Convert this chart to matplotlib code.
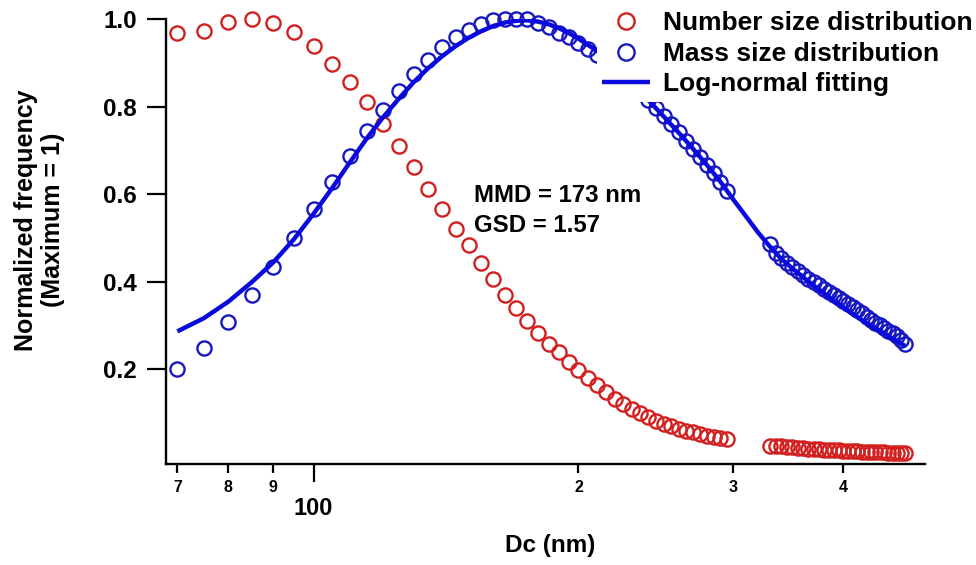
import matplotlib
matplotlib.use("Agg")
import matplotlib.pyplot as plt
from matplotlib.ticker import FixedLocator, FixedFormatter

plt.rcParams['font.family'] = ['Liberation Sans', 'DejaVu Sans']
plt.rcParams['font.weight'] = 'bold'

# mobility diameters (nm), two scan ranges
dc_lo = [70, 75, 80, 85, 90, 95, 100, 105, 110, 115, 120, 125, 130, 135, 140,
         145, 150, 155, 160, 165, 170, 175, 180, 185, 190, 195, 200, 205, 210,
         215, 220, 225, 230, 235, 240, 245, 250, 255, 260, 265, 270, 275, 280,
         285, 290, 295]
dc_hi = [330, 335, 340, 345, 350, 355, 360, 365, 370, 375, 380, 385, 390, 395,
         400, 405, 410, 415, 420, 425, 430, 435, 440, 445, 450, 455, 460, 465, 470]

# normalized number size distribution
num_lo = [0.967, 0.973, 0.994, 1.000, 0.990, 0.971, 0.938, 0.898, 0.856, 0.810,
          0.759, 0.709, 0.661, 0.612, 0.565, 0.521, 0.483, 0.443, 0.405, 0.369,
          0.339, 0.309, 0.283, 0.258, 0.238, 0.217, 0.198, 0.180, 0.163, 0.147,
          0.132, 0.120, 0.109, 0.099, 0.090, 0.082, 0.075, 0.069, 0.064, 0.059,
          0.055, 0.051, 0.048, 0.045, 0.042, 0.040]
num_hi = [0.025, 0.024, 0.023, 0.022, 0.021, 0.020, 0.019, 0.018, 0.017, 0.0165,
          0.016, 0.015, 0.0145, 0.014, 0.013, 0.0125, 0.012, 0.0115, 0.011, 0.0105,
          0.010, 0.0098, 0.0095, 0.0092, 0.009, 0.0088, 0.0085, 0.0083, 0.008]

# normalized mass size distribution
mass_lo = [0.200, 0.248, 0.307, 0.369, 0.433, 0.500, 0.565, 0.627, 0.688, 0.743,
           0.792, 0.836, 0.875, 0.906, 0.936, 0.958, 0.974, 0.989, 0.997, 1.000,
           1.000, 0.999, 0.991, 0.982, 0.969, 0.958, 0.945, 0.932, 0.918, 0.903,
           0.887, 0.870, 0.851, 0.832, 0.815, 0.797, 0.778, 0.760, 0.741, 0.722,
           0.703, 0.685, 0.666, 0.647, 0.627, 0.606]
mass_hi = [0.485, 0.466, 0.453, 0.443, 0.434, 0.424, 0.414, 0.405, 0.399, 0.392,
           0.384, 0.377, 0.370, 0.363, 0.356, 0.348, 0.341, 0.334, 0.327, 0.320,
           0.313, 0.306, 0.301, 0.294, 0.287, 0.282, 0.276, 0.266, 0.257]

# log-normal fit of the mass distribution
fit_dc = [70, 75, 80, 85, 90, 95, 100, 105, 110, 115, 120, 125, 130, 135, 140,
          145, 150, 155, 160, 165, 170, 175, 180, 185, 190, 195, 200, 210, 220,
          230, 240, 250, 260, 270, 280, 290, 300, 310, 320, 330, 340, 350, 360,
          370, 380, 390, 400, 410, 420, 430, 440, 450, 460, 470]
fit_val = [0.286, 0.316, 0.354, 0.398, 0.444, 0.497, 0.555, 0.614, 0.673, 0.728,
           0.776, 0.818, 0.856, 0.888, 0.915, 0.938, 0.957, 0.972, 0.984, 0.992,
           0.996, 0.997, 0.994, 0.988, 0.979, 0.968, 0.955, 0.927, 0.892, 0.853,
           0.815, 0.777, 0.740, 0.703, 0.666, 0.628, 0.587, 0.549, 0.512, 0.480,
           0.452, 0.430, 0.410, 0.391, 0.374, 0.357, 0.341, 0.326, 0.312, 0.299,
           0.287, 0.275, 0.264, 0.253]

mmd = 173
gsd = 1.57

red = '#D22020'
blue = '#1818C0'
fitblue = '#0A0ADC'

fig = plt.figure(figsize=(9.76, 5.65), dpi=100)
ax = fig.add_axes([165.7 / 976, 1 - 464 / 565, 759.3 / 976, 445 / 565])

dc = dc_lo + dc_hi
ax.plot(dc, num_lo + num_hi, 'o', mfc='none', mec=red, ms=10.2, mew=1.7,
        clip_on=False, label='Number size distribution')
ax.plot(dc, mass_lo + mass_hi, 'o', mfc='none', mec=blue, ms=10.2, mew=1.7,
        clip_on=False, label='Mass size distribution')
ax.plot(fit_dc, fit_val, '-', color=fitblue, lw=3.2, solid_capstyle='butt',
        label='Log-normal fitting')

ax.set_xscale('log')
ax.set_xlim(67.9, 495.3)
ax.set_ylim(-0.0171, 1.0)

for s in ['top', 'right']:
    ax.spines[s].set_visible(False)
for s in ['left', 'bottom']:
    ax.spines[s].set_linewidth(1.7)

# Igor-style log axis: "100" as major, single digits on minor ticks
ax.xaxis.set_major_locator(FixedLocator([100]))
ax.xaxis.set_major_formatter(FixedFormatter(['100']))
ax.xaxis.set_minor_locator(FixedLocator([70, 80, 90, 200, 300, 400]))
ax.xaxis.set_minor_formatter(FixedFormatter(['7', '8', '9', '2', '3', '4']))
ax.tick_params(axis='x', which='major', length=13, width=1.6, pad=11,
               labelsize=17)
ax.tick_params(axis='x', which='minor', length=6.7, width=1.6, pad=4.8,
               labelsize=11.5)

ax.set_yticks([0.2, 0.4, 0.6, 0.8, 1.0])
ax.set_yticklabels(['0.2', '0.4', '0.6', '0.8', '1.0'])
ax.tick_params(axis='y', length=13.5, width=1.6, pad=7.4, labelsize=17.5)
for lab in ax.get_xticklabels(which='both') + ax.get_yticklabels():
    lab.set_fontweight('bold')

ax.set_xlabel('Dc (nm)', fontsize=17.5, fontweight='bold')
ax.xaxis.set_label_coords(0.506, -0.157)

fig.text(0.0405, 0.611, 'Normalized frequency\n(Maximum = 1)', rotation=90,
         ha='center', va='center', multialignment='center', fontsize=18,
         fontweight='bold')

fig.text(474 / 976, 1 - 201.5 / 565, 'MMD = %d nm' % mmd, fontsize=17.3,
         fontweight='bold', va='baseline')
fig.text(474 / 976, 1 - 231.7 / 565, 'GSD = %.2f' % gsd, fontsize=17.3,
         fontweight='bold', va='baseline')

leg = ax.legend(loc='upper left', bbox_to_anchor=(597 / 976, 1 - 6 / 565),
                bbox_transform=fig.transFigure, frameon=True, fancybox=False,
                framealpha=1, edgecolor='none', borderpad=0.2,
                borderaxespad=0, handlelength=1.8, handletextpad=0.5,
                labelspacing=0.25, markerscale=1.15,
                prop={'weight': 'bold', 'size': 19})

fig.savefig('out.png', dpi=100)
